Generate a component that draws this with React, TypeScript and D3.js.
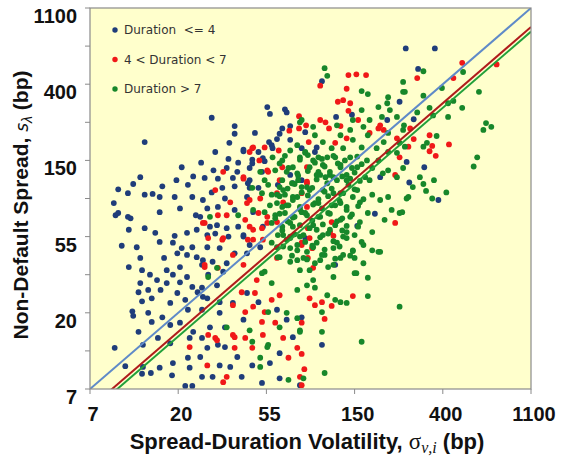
import React from "react";
import { scaleLinear, line } from "d3";

// values are ln(bp): the axes run from e^2 (~7bp) to e^7 (~1100bp)
type Pt = [number, number];

const xTicks = [2, 3, 4, 5, 6, 7];
const xTickLabels = ["7", "20", "55", "150", "400", "1100"];
const yTicks = [2, 3, 4, 5, 6, 7];
const yTickLabels = ["7", "20", "55", "150", "400", "1100"];
const yMinorTicks = [2.5, 3.5, 4.5, 5.5, 6.5];

const legendLabels = ["Duration  <= 4", "4 < Duration < 7", "Duration > 7"];
const dotColors = ["#1f3d7a", "#f01818", "#17872a"];
const fitColors = ["#5f8ac8", "#b01c1c", "#22a03a"];
// fitted line: ln s = ln sigma + offset
const fitOffsets = [0, -0.25, -0.31];

const shortDuration: Pt[] = [
  [2.62,5.24],[3.26,4.97],[3.04,4.91],[2.57,4.78],[2.98,4.74],[3.17,4.79],[2.49,4.69],[2.32,4.62],[2.82,4.66],[2.43,4.57],
  [2.62,4.55],[2.71,4.56],[2.79,4.52],[3.11,4.68],[3.16,4.52],[2.96,4.52],[2.27,4.44],[2.29,4.28],[2.46,4.24],[2.79,4.32],
  [3.02,4.37],[3.20,4.28],[2.44,4.09],[2.62,4.11],[2.74,4.05],[2.96,4.01],[3.10,4.05],[3.21,4.09],[2.36,3.88],[2.53,3.86],
  [2.79,3.93],[2.94,3.92],[3.04,3.85],[3.16,3.86],[2.57,3.72],[2.84,3.72],[2.99,3.78],[3.10,3.76],[3.21,3.73],[2.44,3.60],
  [2.59,3.56],[2.87,3.56],[3.02,3.60],[3.27,3.63],[2.68,3.50],[2.94,3.50],[3.10,3.47],[2.57,3.39],[2.76,3.43],[2.87,3.39],
  [3.02,3.40],[3.16,3.34],[2.55,3.27],[2.66,3.30],[2.80,3.30],[2.99,3.26],[3.22,3.27],[2.59,3.15],[2.70,3.19],[2.91,3.13],
  [3.08,3.17],[2.48,3.02],[2.66,3.00],[2.82,2.94],[3.11,3.04],[2.49,2.96],[2.70,2.88],[2.55,2.75],[2.91,2.84],[3.02,2.87],
  [3.17,2.75],[2.60,2.58],[2.77,2.67],[2.91,2.60],[3.13,2.67],[2.28,2.54],[2.40,2.30],[2.60,2.29],[2.79,2.28],[2.94,2.34],
  [3.11,2.41],[3.25,2.42],[2.59,2.20],[2.69,2.21],[2.93,2.18],[3.13,2.28],[3.08,2.04],[3.16,2.04],[3.27,2.16],[3.28,3.21],
  [2.32,4.31],[2.43,4.26],
  [4.01,5.70],[4.04,5.61],[4.21,5.67],[4.23,5.63],[3.38,5.56],[3.64,5.45],[3.64,5.35],[3.87,5.36],[4.18,5.42],[4.15,5.35],
  [4.27,5.45],[3.58,5.23],[4.03,5.24],[4.12,5.28],[4.27,5.27],[3.42,5.11],[3.74,5.12],[3.91,5.11],[4.06,5.20],[3.57,5.02],
  [3.68,4.97],[3.84,5.01],[3.98,4.99],[3.40,4.87],[3.55,4.90],[3.67,4.85],[3.81,4.90],[3.95,4.85],[3.30,4.77],[3.45,4.76],
  [3.62,4.77],[3.81,4.74],[3.38,4.58],[3.50,4.64],[3.64,4.66],[3.81,4.64],[3.28,4.48],[3.53,4.50],[3.78,4.52],[3.33,4.37],
  [3.45,4.39],[3.64,4.35],[3.25,4.26],[3.36,4.13],[3.44,4.15],[3.55,4.11],[3.68,4.13],[3.33,4.02],[3.74,4.00],
  [3.42,4.04],[3.57,4.00],[3.74,4.02],[3.33,3.86],[3.47,3.85],[3.64,3.78],[3.81,3.89],[3.28,3.69],[3.39,3.67],[3.55,3.65],
  [3.34,3.50],[3.51,3.54],[3.44,3.36],[3.27,3.33],[3.33,3.19],[3.47,3.14],[3.62,3.13],[3.78,3.26],[3.91,3.14],[4.12,3.04],
  [3.27,3.04],[3.47,3.00],[3.74,2.91],[4.23,2.91],[3.36,2.81],[3.53,2.81],[3.33,2.54],[3.45,2.58],[3.53,2.55],[3.27,2.67],
  [3.67,2.42],[3.84,2.31],[3.47,2.31],[3.59,2.29],[4.04,2.34],[4.15,2.47],[3.39,2.16],[3.72,2.16],[3.95,2.08],[4.15,2.14],
  [4.38,2.05],[4.30,2.68],
  [5.58,6.47],[4.63,6.04],[4.79,5.57],[5.51,5.77],[4.44,5.37],[4.40,5.16],[4.55,5.11],[4.97,5.60],[5.37,5.53],[5.59,4.98],
  [5.29,4.78],[5.23,4.30],[5.03,4.14],[4.78,3.63],[4.63,2.58],[4.40,2.94],[5.62,4.71],[5.91,6.47],[5.72,6.20],[5.67,5.54],
  [5.79,4.91],[5.95,4.48],[3.74,5.14],[3.84,4.96],[3.96,5.03],[4.07,5.16],[3.79,4.70],[3.91,4.64],[3.85,4.32],[3.96,4.13],
  [3.78,3.78],[3.93,3.86],[4.40,4.74],[4.57,5.17],[4.27,4.81],[4.30,4.70],[4.13,4.68],[4.44,3.98],
];

const midDuration: Pt[] = [
  [3.28,4.18],[3.13,2.55],[3.30,3.63],
  [4.37,5.58],[4.26,5.39],[4.37,5.42],[3.84,5.16],[3.98,5.17],[4.14,5.13],[3.81,5.11],[3.92,5.00],[3.51,4.85],[3.74,4.76],
  [3.42,4.61],[4.02,4.85],[4.15,4.74],[3.59,4.45],[3.78,4.44],[3.93,4.50],[3.45,4.28],[3.55,4.28],[3.30,4.18],[3.81,4.13],
  [3.95,4.11],[3.51,3.98],[4.01,4.18],
  [3.34,3.98],[3.50,3.96],[3.85,3.96],[3.30,3.60],[3.45,3.59],[3.62,3.76],[3.74,3.63],[3.89,3.43],[3.72,3.27],[3.87,3.26],
  [3.62,3.10],[3.85,3.08],[3.98,3.01],[4.06,3.17],[3.76,3.01],[3.95,2.88],[4.10,2.87],[3.34,2.71],[3.42,2.67],[3.62,2.71],
  [3.76,2.67],[3.96,2.71],[4.19,2.67],[3.64,2.54],[3.84,2.54],[4.35,2.54],[3.33,2.31],[4.25,2.41],[3.55,2.16],[4.38,2.16],
  [3.51,2.09],[4.15,3.23],
  [4.93,6.12],[5.02,6.13],[5.13,6.12],[4.61,5.98],[4.91,5.94],[4.81,5.77],[4.87,5.79],[4.95,5.75],[4.93,5.65],[4.61,5.53],
  [4.67,5.50],[5.04,5.53],[4.45,5.46],[4.84,5.45],[5.29,5.46],[5.27,5.42],[5.33,5.40],[4.71,5.42],[4.48,5.24],[4.91,5.29],
  [5.17,5.36],[4.78,5.23],[5.48,5.29],[5.51,5.04],[4.46,4.91],[5.46,4.81],
  [4.46,4.70],[5.46,4.18],[4.72,4.06],[4.52,3.85],[4.40,3.89],[4.47,3.72],[4.53,3.59],[4.49,3.19],[4.55,3.10],[4.63,3.14],
  [4.74,3.09],[4.98,3.22],[4.66,2.92],[4.40,2.87],[4.40,2.46],[4.43,2.26],[4.40,2.05],
  [6.22,6.28],[6.61,6.26],[5.71,6.08],[6.12,6.08],[5.63,5.42],[5.67,5.28],[5.85,5.33],[5.88,5.19],[5.85,5.12],[5.92,5.06],
  [6.07,5.21],[5.61,5.18],
  [3.85,5.17],[3.74,4.78],[4.01,4.87],[3.81,4.48],[3.91,4.31],[3.76,4.22],[3.85,4.09],[4.01,4.26],[4.46,4.39],[4.76,4.01],
  [4.12,3.72],[3.96,3.96],[4.49,3.98],[3.79,3.96],[3.44,2.64],[3.64,2.68],
  [4.18,4.91],[4.46,4.72],[4.12,4.57],[4.40,4.57],[4.19,4.45],[4.47,4.11],[4.74,4.19],[4.72,4.06],[4.40,3.92],[4.52,3.85],
  [4.12,4.19],
];

const longDuration: Pt[] = [
  [4.38,5.50],[4.35,5.20],[4.27,5.13],[4.07,5.04],[4.18,5.00],[4.38,5.04],[3.93,4.85],[4.10,4.87],[4.25,4.90],[4.35,4.83],
  [4.02,4.68],[4.15,4.65],[4.29,4.70],[4.40,4.65],[3.84,4.64],[3.95,4.57],[4.06,4.55],[4.21,4.55],[4.35,4.52],[4.12,4.44],
  [4.25,4.41],[4.38,4.39],[3.85,4.35],[3.98,4.32],[4.10,4.28],[4.21,4.31],[4.32,4.26],[4.06,4.18],[4.18,4.13],[4.30,4.13],
  [4.13,4.02],[4.27,4.00],[3.68,4.28],[3.36,4.26],
  [3.55,2.81],[3.81,2.77],[3.84,2.62],[4.02,3.01],[4.15,2.81],[4.02,2.58],[3.93,2.41],[3.93,2.29],[4.25,2.12],[4.38,2.77],
  [4.35,2.93],[4.23,3.00],[3.34,3.47],[4.35,3.30],[4.27,3.67],[4.15,3.73],[4.38,3.56],[4.12,3.86],[4.23,3.96],[4.35,3.89],
  [3.98,3.54],[4.06,3.39],
  [4.66,6.21],[4.69,6.11],[5.08,5.91],[5.15,5.87],[5.38,5.83],[5.55,5.90],[5.37,5.75],[5.08,5.66],[5.27,5.70],[5.40,5.66],
  [5.31,5.57],[5.48,5.57],[5.17,5.53],[4.98,5.53],[4.40,5.53],[4.53,5.44],[4.80,5.46],[4.95,5.40],[5.10,5.44],[5.15,5.33],
  [5.38,5.36],[5.55,5.40],[4.55,5.33],[4.84,5.33],[4.98,5.27],[5.33,5.24],[5.51,5.23],[4.64,5.24],[4.74,5.16],[4.87,5.16],
  [5.08,5.17],[5.25,5.16],[5.38,5.11],[4.44,5.10],[4.59,5.04],[4.78,5.04],[4.95,5.04],[5.14,5.00],[5.27,5.00],[5.48,5.10],
  [4.49,4.91],[4.64,4.94],[4.84,4.91],[5.03,4.91],[5.20,4.90],[5.38,4.87],[5.55,4.90],[4.57,4.81],[4.72,4.81],[4.91,4.81],
  [5.12,4.78],
  [4.67,4.78],[4.95,4.76],[5.17,4.74],[5.32,4.83],[5.48,4.78],[4.49,4.61],[4.76,4.57],[5.03,4.61],[5.20,4.55],[5.38,4.52],
  [5.59,4.50],[4.59,4.44],[4.84,4.44],[5.06,4.45],[5.29,4.48],[5.42,4.35],[5.51,4.31],[4.46,4.28],[4.70,4.31],[4.95,4.26],
  [5.15,4.31],[5.34,4.22],[4.53,4.15],[4.78,4.15],[5.04,4.13],[5.20,4.06],[4.42,4.02],[4.64,4.02],[4.87,4.00],[5.10,3.89],
  [5.29,3.80],[5.20,3.82],[4.53,3.86],[4.76,3.85],[4.98,3.82],[4.42,3.72],[4.61,3.69],[4.84,3.72],[5.00,3.72],[5.10,3.65],
  [4.49,3.56],[4.70,3.60],[5.00,3.52],[5.15,3.46],[4.53,3.43],[4.76,3.47],[4.46,3.36],[4.55,3.33],[4.69,3.23],[4.78,3.17],
  [4.84,3.14],[4.91,3.13],[5.15,3.22],[5.51,3.08],[4.63,3.01],[4.38,2.75],[4.63,2.75],[5.08,2.62],[4.42,2.14],[4.66,2.21],
  [5.78,6.17],[6.23,6.16],[5.55,6.03],[5.57,5.90],[5.78,5.85],[5.99,5.95],[6.41,5.90],[5.85,5.69],[6.06,5.75],[6.12,5.78],
  [6.22,5.69],[5.71,5.63],[5.89,5.59],[6.06,5.57],[5.56,5.46],[6.49,5.49],[6.55,5.44],[6.46,5.40],[5.93,5.32],[5.78,5.18],
  [5.57,5.18],[5.82,5.23],[6.39,5.04],[6.35,4.92],[5.74,4.78],[5.78,4.69],[5.90,4.74],[5.66,4.65],[5.81,4.60],[6.04,4.58],
  [5.61,4.52],[5.88,4.50],[5.54,4.32],[5.27,3.80],[5.02,3.52],
  [4.53,5.00],[4.69,5.04],[4.84,4.94],[4.59,4.85],[4.76,4.78],[4.91,4.74],[4.36,4.74],[4.46,4.65],[4.64,4.61],[4.84,4.57],
  [4.19,4.61],[4.30,4.52],[4.55,4.44],[4.74,4.41],[4.91,4.39],[4.18,4.39],[4.40,4.32],[4.61,4.26],[4.84,4.22],[4.10,4.24],
  [4.27,4.18],[4.49,4.11],[4.72,4.09],[4.91,4.06],[4.19,4.02],[4.38,4.00],[4.57,3.92],[4.80,3.92],[4.06,3.92],[4.27,3.85],
  [4.46,3.80],[4.66,3.76],[4.87,3.76],[4.13,3.73],[4.35,3.69],[4.55,3.65],[4.76,3.63],[4.12,4.55],[4.04,4.41],[3.98,4.74],
  [4.44,5.11],[3.95,3.52],[4.01,2.55],[3.44,3.59],
  // dense core
  [4.21,5.06],[4.38,5.01],[4.47,5.07],[4.63,5.02],[4.76,5.06],[4.89,5.00],[5.03,5.05],
  [4.15,4.96],[4.30,4.91],[4.55,4.97],[4.66,4.92],[4.81,4.96],[4.97,4.90],[5.08,4.95],
  [4.23,4.85],[4.36,4.80],[4.47,4.86],[4.61,4.81],[4.72,4.85],[4.86,4.79],[5.00,4.84],
  [4.18,4.74],[4.32,4.69],[4.57,4.75],[4.69,4.70],[4.80,4.74],[4.93,4.68],[5.06,4.73],
  [4.24,4.63],[4.40,4.58],[4.52,4.64],[4.66,4.59],[4.74,4.63],[4.87,4.57],[5.00,4.62],
  [4.15,4.53],[4.30,4.48],[4.47,4.54],[4.59,4.49],[4.70,4.53],[4.83,4.47],[4.98,4.52],[5.10,4.49],
  [4.23,4.41],[4.38,4.36],[4.53,4.42],[4.63,4.37],[4.78,4.41],[4.91,4.35],[5.04,4.40],
  [4.15,4.30],[4.30,4.25],[4.44,4.31],[4.59,4.26],[4.72,4.30],[4.86,4.24],[4.97,4.29],
  [4.24,4.20],[4.38,4.15],[4.52,4.21],[4.64,4.16],[4.80,4.20],[4.91,4.14],[5.06,4.19],
  [4.18,4.08],[4.32,4.03],[4.57,4.09],[4.70,4.04],[4.86,4.08],[5.00,4.02],
  [4.27,3.98],[4.44,3.93],[4.61,3.99],[4.76,3.94],[4.91,3.98],[5.08,3.93],
  [4.19,3.87],[4.35,3.82],[4.52,3.88],[4.66,3.83],[4.83,3.87],[4.98,3.81],
  [4.29,3.75],[4.46,3.70],[4.63,3.76],[4.78,3.71],[4.95,3.75],
];

const seriesPoints = [shortDuration, midDuration, longDuration];

const W = 564;
const H = 460;
const left = 90;
const top = 8;
const plotW = 441;
const plotH = 381;

const App: React.FC = () => {
  const x = scaleLinear().domain([2, 7]).range([left, left + plotW]);
  const y = scaleLinear().domain([2, 7]).range([top + plotH, top]);

  const axisFont = "'Liberation Sans', Arial, sans-serif";

  return (
    <svg width={W} height={H} style={{ position: "absolute", left: 0, top: 0, background: "#fff" }}>
      <defs>
        <clipPath id="plot-clip">
          <rect x={left} y={top} width={plotW} height={plotH} />
        </clipPath>
      </defs>

      {/* plot area */}
      <rect x={left} y={top} width={plotW} height={plotH} fill="#ffffcc" />

      {/* dots */}
      <g clipPath="url(#plot-clip)">
        {seriesPoints.map((pts, s) => (
          <g key={s} fill={dotColors[s]}>
            {pts.map((p, i) => (
              <circle key={i} cx={x(p[0])} cy={y(p[1])} r={2.9} />
            ))}
          </g>
        ))}

        {/* fitted lines */}
        {fitOffsets.map((off, s) => {
          const path = line<number>()
            .x((d) => x(d))
            .y((d) => y(d + off))([2, 7]);
          return (
            <path key={s} d={path ?? ""} fill="none" stroke={fitColors[s]} strokeWidth={2} />
          );
        })}
      </g>

      <rect x={left} y={top} width={plotW} height={plotH} fill="none" stroke="#8a8a8a" strokeWidth={1.2} />

      {/* y axis */}
      {[...yTicks, ...yMinorTicks].map((t, i) => (
        <line key={i} x1={left - 5} x2={left} y1={y(t)} y2={y(t)} stroke="#8a8a8a" strokeWidth={1} />
      ))}
      {yTicks.map((t, i) => (
        <text
          key={i}
          x={left - 13}
          y={y(t) + 15}
          textAnchor="end"
          fontFamily={axisFont}
          fontWeight="bold"
          fontSize={20}
          fill="#111"
        >
          {yTickLabels[i]}
        </text>
      ))}

      {/* x axis */}
      {xTicks.map((t, i) => (
        <g key={i}>
          <line x1={x(t)} x2={x(t)} y1={top + plotH} y2={top + plotH + 5} stroke="#8a8a8a" strokeWidth={1} />
          <text
            x={x(t) + 3}
            y={top + plotH + 32}
            textAnchor="middle"
            fontFamily={axisFont}
            fontWeight="bold"
            fontSize={20}
            fill="#111"
          >
            {xTickLabels[i]}
          </text>
        </g>
      ))}

      {/* legend */}
      {legendLabels.map((lab, i) => (
        <g key={i} transform={`translate(115, ${30 + i * 29.5})`}>
          <circle cx={0} cy={0} r={2.7} fill={dotColors[i]} />
          <text
            x={9}
            y={4}
            fontFamily="'DejaVu Sans', Verdana, sans-serif"
            fontSize={12}
            fill="#333"
            style={{ whiteSpace: "pre" }}
          >
            {lab}
          </text>
        </g>
      ))}

      {/* axis titles */}
      <text
        x={307}
        y={449}
        textAnchor="middle"
        fontFamily={axisFont}
        fontWeight="bold"
        fontSize={22}
        fill="#111"
      >
        Spread-Duration Volatility,{" "}
        <tspan fontFamily="'Liberation Serif', serif" fontWeight="normal" fontSize={23}>
          σ
        </tspan>
        <tspan fontFamily="'Liberation Serif', serif" fontStyle="italic" fontWeight="normal" fontSize={16} dy={4}>
          ν,i
        </tspan>
        <tspan dy={-4}>{"  (bp)"}</tspan>
      </text>

      <text
        transform={`translate(28, ${205}) rotate(-90)`}
        textAnchor="middle"
        fontFamily={axisFont}
        fontWeight="bold"
        fontSize={21}
        fill="#111"
      >
        Non-Default Spread,{" "}
        <tspan fontFamily="'DejaVu Sans', sans-serif" fontStyle="italic" fontWeight="normal" fontSize={17}>
          s
        </tspan>
        <tspan fontStyle="italic" fontWeight="normal" fontSize={14} dy={4}>
          λ
        </tspan>
        <tspan dy={-4}>{" (bp)"}</tspan>
      </text>
    </svg>
  );
};

export default App;
